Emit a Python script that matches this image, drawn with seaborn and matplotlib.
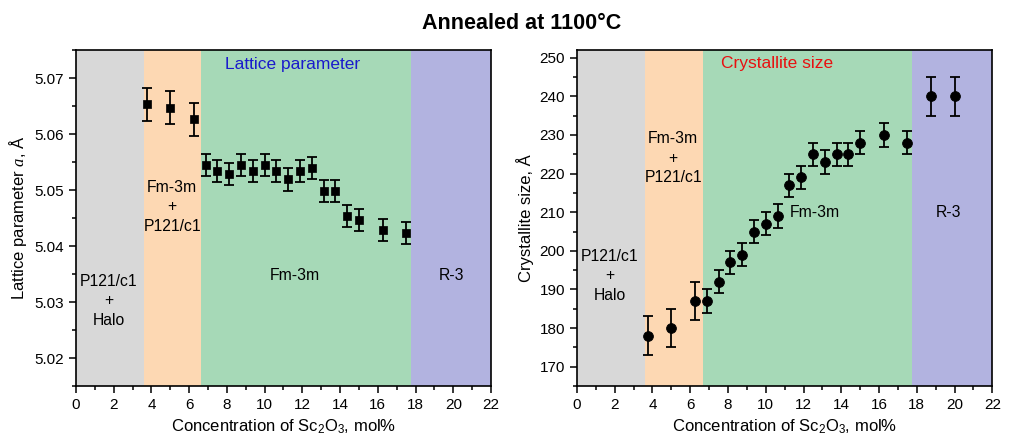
import numpy as np
import pandas as pd
import matplotlib
matplotlib.use("Agg")
import matplotlib.pyplot as plt
from matplotlib.ticker import MultipleLocator
import seaborn as sns

# lattice parameter data
lat_x = [3.75, 5.0, 6.25, 6.875, 7.5, 8.125, 8.75, 9.375, 10.0, 10.625,
         11.25, 11.875, 12.5, 13.125, 13.75, 14.375, 15.0, 16.25, 17.5]
lat_a = [5.0653, 5.0647, 5.0626, 5.0545, 5.0534, 5.0529, 5.0545, 5.0534, 5.0545, 5.0534,
         5.0519, 5.0534, 5.0539, 5.0498, 5.0498, 5.0454, 5.0446, 5.0429, 5.0423]
lat_err = [0.003, 0.003, 0.003, 0.002, 0.002, 0.002, 0.002, 0.002, 0.002, 0.002,
           0.002, 0.002, 0.002, 0.002, 0.002, 0.002, 0.002, 0.002, 0.002]

# crystallite size data
cs_x = [3.75, 5.0, 6.25, 6.875, 7.5, 8.125, 8.75, 9.375, 10.0, 10.625, 11.25,
        11.875, 12.5, 13.125, 13.75, 14.375, 15.0, 16.25, 17.5, 18.75, 20.0]
cs_size = [178, 180, 187, 187, 192, 197, 199, 205, 207, 209, 217,
           219, 225, 223, 225, 225, 228, 230, 228, 240, 240]
cs_err = [5, 5, 5, 3, 3, 3, 3, 3, 3, 3, 3,
          3, 3, 3, 3, 3, 3, 3, 3, 5, 5]

# phase regions
region_edges = [0, 3.6, 6.65, 17.75, 22]
region_colors = ['#d8d8d8', '#fdd8b3', '#a6d9b7', '#b2b3e0']

lat_df = pd.DataFrame({'x': lat_x, 'y': lat_a, 'err': lat_err})
cs_df = pd.DataFrame({'x': cs_x, 'y': cs_size, 'err': cs_err})

sns.set_style("ticks")
plt.rcParams['font.family'] = ['Liberation Sans', 'DejaVu Sans']
plt.rcParams['mathtext.fontset'] = 'custom'
plt.rcParams['mathtext.rm'] = 'Liberation Sans'
plt.rcParams['mathtext.it'] = 'Liberation Serif:italic'
plt.rcParams['text.color'] = 'black'
plt.rcParams['axes.labelcolor'] = 'black'
plt.rcParams['xtick.color'] = 'black'
plt.rcParams['ytick.color'] = 'black'

fig = plt.figure(figsize=(10.09, 4.38), dpi=100)
ax1 = fig.add_axes([0.0753, 0.1187, 0.4113, 0.7671])
ax2 = fig.add_axes([0.5718, 0.1187, 0.4117, 0.7671])


def shade(ax):
    for i in range(len(region_colors)):
        ax.axvspan(region_edges[i], region_edges[i + 1], color=region_colors[i], lw=0, zorder=0)


def style(ax):
    ax.set_xlim(0, 22)
    ax.xaxis.set_major_locator(MultipleLocator(2))
    ax.xaxis.set_minor_locator(MultipleLocator(1))
    ax.tick_params(which='both', direction='out', labelsize=11, width=1.1, color='black')
    ax.tick_params(which='major', length=5)
    ax.tick_params(which='minor', length=3)
    for s in ax.spines.values():
        s.set_visible(True)
        s.set_linewidth(1.2)
        s.set_color('black')
    ax.set_xlabel('Concentration of Sc$_2$O$_3$, mol%', fontsize=12)


# left panel
shade(ax1)
ax1.errorbar(lat_df['x'], lat_df['y'], yerr=lat_df['err'], fmt='none', ecolor='black',
             elinewidth=1.3, capsize=3.5, capthick=1.3, zorder=2)
sns.scatterplot(data=lat_df, x='x', y='y', ax=ax1, marker='s', s=40, color='black',
                edgecolor='black', zorder=3)
ax1.set_ylim(5.015, 5.075)
ax1.yaxis.set_major_locator(MultipleLocator(0.01))
ax1.yaxis.set_minor_locator(MultipleLocator(0.005))
style(ax1)
ax1.set_ylabel('Lattice parameter $\\mathit{a}$, Å', fontsize=12)
ax1.text(11.5, 5.0725, 'Lattice parameter', color='#1a1acc', fontsize=12.5, ha='center', va='center')
ax1.text(5.1, 5.047, 'Fm-3m\n+\nP121/c1', fontsize=11.3, ha='center', va='center', linespacing=1.4)
ax1.text(1.75, 5.0302, 'P121/c1\n+\nHalo', fontsize=11.3, ha='center', va='center', linespacing=1.4)
ax1.text(11.6, 5.0348, 'Fm-3m', fontsize=11.3, ha='center', va='center')
ax1.text(19.9, 5.0348, 'R-3', fontsize=11.3, ha='center', va='center')

# right panel
shade(ax2)
ax2.errorbar(cs_df['x'], cs_df['y'], yerr=cs_df['err'], fmt='none', ecolor='black',
             elinewidth=1.3, capsize=3.5, capthick=1.3, zorder=2)
sns.scatterplot(data=cs_df, x='x', y='y', ax=ax2, marker='o', s=50, color='black',
                edgecolor='black', zorder=3)
ax2.set_ylim(165, 252)
ax2.yaxis.set_major_locator(MultipleLocator(10))
ax2.yaxis.set_minor_locator(MultipleLocator(5))
style(ax2)
ax2.set_ylabel('Crystallite size, Å', fontsize=12)
ax2.text(10.6, 248.4, 'Crystallite size', color='#e81010', fontsize=12.5, ha='center', va='center')
ax2.text(5.1, 224, 'Fm-3m\n+\nP121/c1', fontsize=11.3, ha='center', va='center', linespacing=1.4)
ax2.text(1.75, 193.5, 'P121/c1\n+\nHalo', fontsize=11.3, ha='center', va='center', linespacing=1.4)
ax2.text(12.6, 210, 'Fm-3m', fontsize=11.3, ha='center', va='center')
ax2.text(19.7, 210, 'R-3', fontsize=11.3, ha='center', va='center')

fig.text(0.517, 0.947, 'Annealed at 1100°C', fontsize=15.5, fontweight='bold', ha='center', va='center')

fig.savefig('out.png', dpi=100)
